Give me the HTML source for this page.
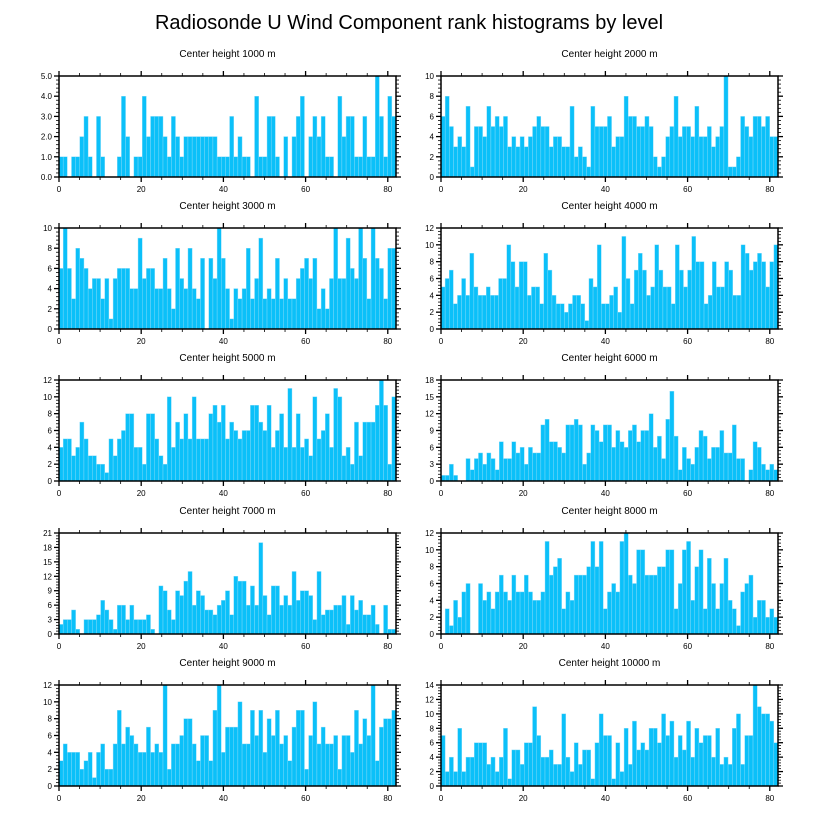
<!DOCTYPE html>
<html><head><meta charset="utf-8">
<style>
html,body{margin:0;padding:0;background:#fff;}
svg{display:block;font-family:"Liberation Sans",sans-serif;}
</style></head>
<body>
<svg id="chart" width="818" height="824" viewBox="0 0 818 824" xmlns="http://www.w3.org/2000/svg">
<text x="409" y="29" text-anchor="middle" font-size="20">Radiosonde U Wind Component rank histograms by level</text>
</svg>
<script>
const panelTitles = ["Center height 1000 m","Center height 2000 m","Center height 3000 m","Center height 4000 m","Center height 5000 m","Center height 6000 m","Center height 7000 m","Center height 8000 m","Center height 9000 m","Center height 10000 m"];
const yMax = [5,10,10,12,12,18,21,12,12,14];
const yStep = [1,2,2,2,2,3,3,2,2,2];
const xTicks = [0,20,40,60,80];
const v1000 = [1,1,0,1,1,2,3,1,0,3,1,0,0,0,1,4,2,0,1,1,4,2,3,3,3,2,1,3,2,1,2,2,2,2,2,2,2,2,1,1,1,3,1,2,1,1,0,4,1,1,3,3,1,0,2,0,2,3,4,0,2,3,2,3,1,1,0,4,2,3,3,1,1,3,1,1,5,3,1,4,3];
const v2000 = [6,8,5,3,4,3,7,1,5,5,4,7,5,6,5,6,3,4,3,4,3,4,5,6,5,5,3,4,4,3,3,7,2,3,2,1,7,5,5,5,6,3,4,4,8,6,6,5,5,6,5,2,1,2,4,5,8,4,5,5,4,7,4,4,5,3,4,5,10,1,1,2,6,5,4,6,6,5,6,4,4];
const v3000 = [6,10,6,3,8,7,6,4,5,5,3,5,1,5,6,6,6,4,4,9,5,6,6,4,4,7,4,2,8,5,4,8,4,3,7,0,7,5,10,7,4,1,4,3,4,8,3,5,9,3,4,3,7,3,5,3,3,5,6,7,5,7,2,4,2,5,10,5,5,9,6,5,10,7,3,10,7,6,3,8,8];
const v4000 = [5,6,7,3,4,6,4,9,5,4,4,5,4,4,6,6,10,8,5,8,8,4,5,5,3,9,7,4,3,3,2,3,4,4,3,1,6,5,10,3,3,4,5,2,11,6,3,7,9,7,4,5,10,7,5,5,3,10,7,5,7,11,8,8,3,4,8,5,5,8,7,4,4,10,9,7,8,9,8,5,8,10];
const v5000 = [4,5,5,3,4,7,5,3,3,2,2,1,5,3,5,6,8,8,4,4,2,8,8,5,3,2,10,4,7,5,8,5,10,5,5,5,8,9,7,9,5,7,6,5,6,6,9,9,7,6,9,4,6,8,4,11,4,8,4,5,3,10,5,6,8,4,11,10,3,4,2,7,3,7,7,7,9,12,9,2,10];
const v6000 = [1,1,3,1,0,0,4,2,4,5,3,5,4,2,7,4,4,7,5,6,3,6,5,5,10,11,7,7,6,5,10,10,11,10,3,5,10,9,7,10,10,6,9,7,6,9,10,7,9,9,12,6,8,4,11,16,8,2,6,4,3,6,9,8,4,6,6,9,5,5,10,4,4,0,2,7,6,3,2,3,2];
const v7000 = [2,3,3,5,1,0,3,3,3,4,7,5,3,1,6,6,3,6,3,3,3,4,1,0,10,9,5,3,9,8,11,13,6,9,8,5,5,4,6,7,9,4,12,11,11,6,10,6,19,8,4,10,10,6,8,6,13,7,9,9,8,3,13,4,5,5,6,6,8,2,8,5,7,4,4,6,2,0,6,1,1];
const v8000 = [0,3,1,4,2,5,6,0,0,6,4,5,3,5,7,5,4,7,5,5,7,5,4,4,5,11,7,8,9,3,5,4,7,7,7,8,11,8,11,3,5,6,5,11,12,7,6,10,10,7,7,7,8,8,10,10,3,6,10,11,4,8,10,3,9,6,3,6,9,4,3,1,5,6,7,2,4,4,2,3,2];
const v9000 = [3,5,4,4,4,2,3,4,1,4,5,2,2,5,9,5,7,6,5,4,4,7,4,5,4,12,2,5,5,6,8,8,5,3,6,6,3,9,12,4,7,7,7,10,5,5,9,6,9,4,8,6,9,5,6,3,7,9,9,2,6,10,5,7,5,5,6,2,6,6,4,9,5,8,6,12,3,7,8,8,9];
const v10000 = [7,2,4,2,8,2,4,4,6,6,6,3,4,2,4,8,1,5,5,3,6,6,11,7,4,4,5,3,3,10,4,2,6,3,5,5,1,6,10,7,7,1,6,2,8,3,9,5,6,5,8,8,6,10,7,9,4,7,5,9,4,8,6,7,7,4,8,3,4,3,8,10,3,7,7,14,11,10,10,9,6];
const series = [v1000,v2000,v3000,v4000,v5000,v6000,v7000,v8000,v9000,v10000];

const NS = "http://www.w3.org/2000/svg";
const svg = document.getElementById("chart");
function mk(tag, attrs, parent){
  const e = document.createElementNS(NS, tag);
  for (const k in attrs) e.setAttribute(k, attrs[k]);
  parent.appendChild(e);
  return e;
}
const XMAX = 82;
const lefts = [59, 441];
const tops = [76, 228, 380, 533, 685];
const W = 337, H = 101;

series.forEach((vals, p) => {
  const px = lefts[p % 2], py = tops[Math.floor(p / 2)];
  const g = mk("g", {}, svg);
  
  
  const xs = v => px + v / XMAX * W;
  const ys = v => py + H - v / yMax[p] * H;
  const t = mk("text", {x: px + W / 2, y: py - 19, "text-anchor": "middle", "font-size": "10"}, g);
  
  
  t.textContent = panelTitles[p];
  const bw = XMAX / vals.length;
  vals.forEach((v, i) => {
    if (v <= 0) return;
    const r = mk("rect", {x: xs(i * bw), y: ys(v), width: xs((i + 1) * bw) - xs(i * bw), height: ys(0) - ys(v), fill: "#0BC0F9", stroke: "#8fdcf8", "stroke-width": "0.4"}, g);
    
    
  });
  const fr = mk("rect", {x: px, y: py, width: W, height: H, fill: "none", stroke: "#000", "stroke-width": "1.5"}, g);
  
  
  // x ticks
  for (let v = 0; v <= XMAX; v += 5) {
    const major = v % 20 === 0;
    const L = major ? 5 : 3;
    const x = xs(v);
    mk("line", {x1: x, x2: x, y1: py + H, y2: py + H + L, stroke: "#000", "stroke-width": major ? 1.3 : 0.8}, g);
    mk("line", {x1: x, x2: x, y1: py, y2: py - L, stroke: "#000", "stroke-width": major ? 1.3 : 0.8}, g);
  }
  xTicks.forEach(v => {
    const tl = mk("text", {x: xs(v), y: py + H + 15, "text-anchor": "middle", "font-size": "8"}, g);
    
    
    tl.textContent = v;
  });
  // y ticks
  const minor = yStep[p] / 5;
  for (let k = 0; k <= Math.round(yMax[p] / minor); k++) {
    const v = k * minor;
    const major = k % 5 === 0;
    const L = major ? 5 : 3;
    const y = ys(v);
    mk("line", {x1: px, x2: px - L, y1: y, y2: y, stroke: "#000", "stroke-width": major ? 1.3 : 0.8}, g);
    mk("line", {x1: px + W, x2: px + W + L, y1: y, y2: y, stroke: "#000", "stroke-width": major ? 1.3 : 0.8}, g);
  }
  for (let v = 0; v <= yMax[p] + 1e-9; v += yStep[p]) {
    const tl = mk("text", {x: px - 7, y: ys(v) + 3, "text-anchor": "end", "font-size": "8"}, g);
    
    
    tl.textContent = p === 0 ? v.toFixed(1) : v;
  }
});
</script>
</body></html>
